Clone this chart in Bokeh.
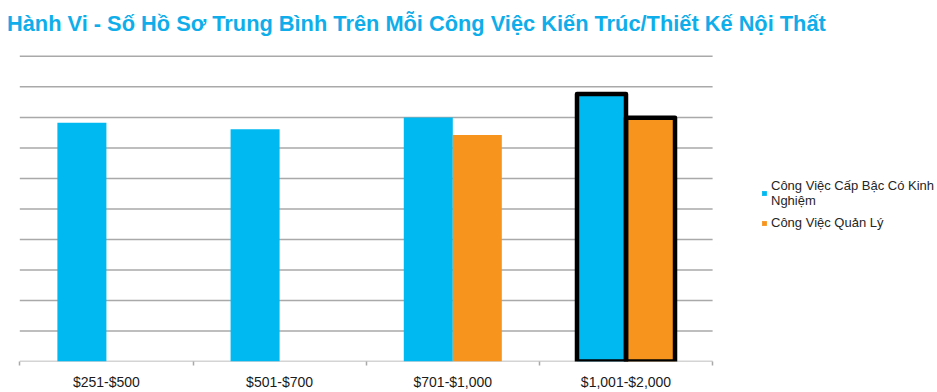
from bokeh.plotting import figure
from bokeh.models import ColumnDataSource, Range1d, FixedTicker, Legend, LegendItem, Label
from bokeh.transform import dodge
from bokeh.embed import file_html
from bokeh.resources import INLINE

title_text = "Hành Vi - Số Hồ Sơ Trung Bình Trên Mỗi Công Việc Kiến Trúc/Thiết Kế Nội Thất"
categories = ["$251-$500", "$501-$700", "$701-$1,000", "$1,001-$2,000"]
series_names = ["Công Việc Cấp Bậc Có Kinh\nNghiệm", "Công Việc Quản Lý"]
experienced = [7.82, 7.61, 8.0, 8.77]
manager = [float("nan"), float("nan"), 7.42, 7.99]
highlight = "$1,001-$2,000"
grid_values = list(range(0, 11))

CYAN = "#00B9F1"
ORANGE = "#F7941E"
GRID = "#A9A9A9"

n = len(categories)
pos = [i + 0.5 for i in range(n)]
bounds = list(range(n + 1))

# layout (pixels)
W, H = 937, 392
PLOT_LEFT = 19.3      # where the category area starts
BASE = 362            # baseline (pixels from top)
BOTTOM = H - BASE
CAT_PX = 173.2        # pixels per category
UNIT_PX = 30.6        # pixels per grid step

x_start = -PLOT_LEFT / CAT_PX
x_end = (W - PLOT_LEFT) / CAT_PX
y_end = BASE / UNIT_PX

src = ColumnDataSource(dict(x=pos, exp=experienced, mgr=manager))
hi = categories.index(highlight)
src_hi = ColumnDataSource(dict(x=[pos[hi]], exp=[experienced[hi]], mgr=[manager[hi]]))
grid_src = ColumnDataSource(dict(y=grid_values, x0=[0] * len(grid_values),
                                 x1=[n] * len(grid_values)))

p = figure(width=W, height=H, output_backend="svg", toolbar_location=None,
           x_range=Range1d(x_start, x_end), y_range=Range1d(0, y_end),
           min_border_left=0, min_border_right=0, min_border_top=0,
           min_border_bottom=BOTTOM)
p.outline_line_color = None
p.background_fill_color = "white"
p.border_fill_color = "white"

p.add_layout(Label(x=6.5, y=BASE - 23.5, x_units="screen", y_units="screen",
                   text=title_text, text_font="Liberation Sans",
                   text_font_size="21.8px", text_font_style="bold",
                   text_color="#0FAEEA", text_baseline="alphabetic",
                   text_align="left"))

p.segment(x0="x0", x1="x1", y0="y", y1="y", source=grid_src,
          line_color=GRID, line_width=1.5)

bw = 0.283
r1 = p.vbar(x=dodge("x", -bw / 2), top="exp", bottom=0, width=bw, source=src,
            fill_color=CYAN, line_color=None)
r2 = p.vbar(x=dodge("x", bw / 2), top="mgr", bottom=0, width=bw, source=src,
            fill_color=ORANGE, line_color=None)
p.vbar(x=dodge("x", -bw / 2), top="exp", bottom=0, width=bw, source=src_hi,
       fill_color=None, line_color="black", line_width=4.5, line_join="round")
p.vbar(x=dodge("x", bw / 2), top="mgr", bottom=0, width=bw, source=src_hi,
       fill_color=None, line_color="black", line_width=4.5, line_join="round")

p.yaxis.visible = False
p.xgrid.visible = False
p.ygrid.visible = False

ax = p.xaxis[0]
ax.ticker = FixedTicker(ticks=pos, minor_ticks=bounds)
ax.major_label_overrides = {x: c for x, c in zip(pos, categories)}
ax.major_tick_in = 0
ax.major_tick_out = 0
ax.minor_tick_in = 0
ax.minor_tick_out = 4
ax.minor_tick_line_color = GRID
ax.minor_tick_line_width = 1.5
ax.axis_line_color = None
ax.major_label_standoff = 8
ax.major_label_text_font = "Liberation Sans"
ax.major_label_text_font_size = "14px"
ax.major_label_text_color = "#1a1a1a"

legend = Legend(items=[LegendItem(label=series_names[0], renderers=[r1]),
                       LegendItem(label=series_names[1], renderers=[r2])],
                location=(761, 131))
legend.margin = 0
legend.padding = 0
legend.spacing = 7
legend.glyph_width = 6
legend.glyph_height = 6
legend.label_height = 15
legend.label_standoff = 4
legend.label_text_font = "Liberation Sans"
legend.label_text_font_size = "13px"
legend.label_text_line_height = 1.15
legend.label_text_color = "#262626"
legend.border_line_color = None
legend.background_fill_alpha = 0
p.add_layout(legend, "center")

open("out.html", "w").write(file_html(p, INLINE))
